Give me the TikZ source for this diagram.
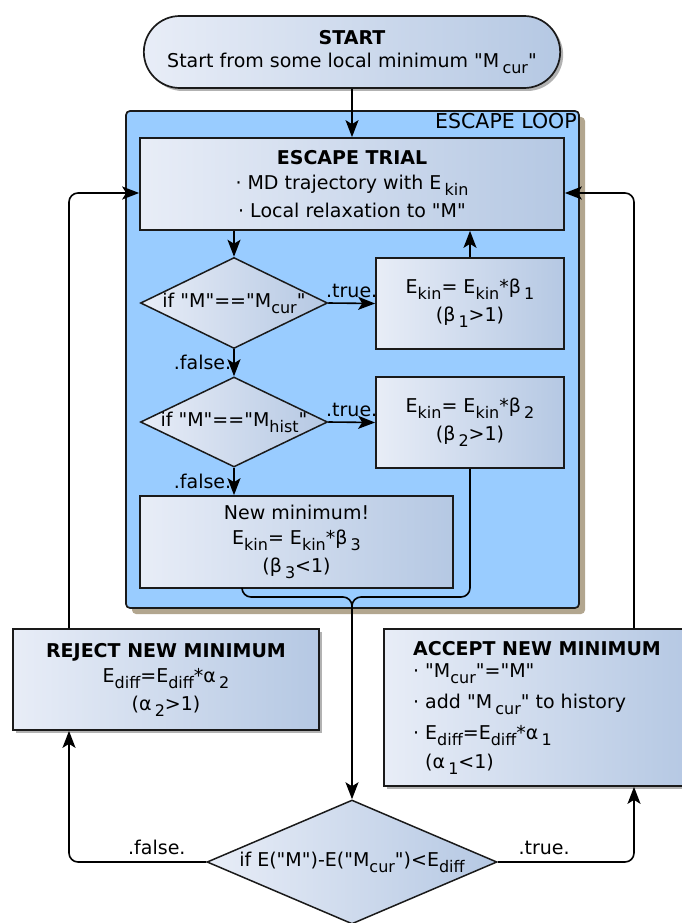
\documentclass[tikz,border=0pt]{standalone}
\usepackage{fontspec}
\setmainfont{DejaVu Sans}[Ligatures=TeXOff]
\usetikzlibrary{shapes.geometric, shapes.misc, arrows.meta, shadows, calc}
\definecolor{boxlight}{HTML}{E8EDF7}
\definecolor{boxdark}{HTML}{B5C8E3}
\definecolor{loopblue}{HTML}{99CCFF}
\definecolor{loopshade}{HTML}{B2A68F}
\definecolor{edgedark}{HTML}{1A1A1A}
\newcommand{\lowsub}[1]{\raisebox{-0.32em}{\fontsize{16}{16}\selectfont #1}}
\tikzset{
  arr/.style={-{Stealth[length=17pt, width=13pt, inset=4pt]}, line width=1.6pt, black},
  wire/.style={line width=1.6pt, black},
  procbox/.style={rectangle, draw=edgedark, line width=1.7pt, left color=boxlight, right color=boxdark, align=center, inner sep=2pt},
  decision/.style={diamond, draw=edgedark, line width=1.5pt, left color=boxlight, right color=boxdark, inner sep=0pt},
  shadowed/.style={drop shadow={shadow xshift=3pt, shadow yshift=-3pt, fill=black, opacity=0.3}},
}

\begin{document}
\begin{tikzpicture}[x=1pt, y=-1pt, font=\fontsize{19}{28}\selectfont,
    startbox/.style={rounded rectangle, draw=edgedark, line width=1.7pt, left color=boxlight, right color=boxdark, align=center, shadowed},
    loopbox/.style={rectangle, rounded corners=4pt, draw=edgedark, line width=1.7pt, fill=loopblue, drop shadow={shadow xshift=6pt, shadow yshift=-6pt, fill=loopshade, opacity=1}},
    lbl/.style={font=\fontsize{19}{20}\selectfont, inner sep=2pt}]
  \useasboundingbox (0,0) rectangle (682,923);

  % Start
  \node[startbox, minimum width=423pt, minimum height=72pt] (start) at (352,52) {{\bfseries START}\\[-5pt]Start from some local minimum "M\,\lowsub{cur}"};

  % Escape loop
  \node[loopbox, minimum width=453pt, minimum height=497pt] (loop) at (352.5,359.5) {};
  \node[anchor=north east, font=\fontsize{20.5}{22}\selectfont, inner sep=3pt] (looptitle) at (loop.north east) {ESCAPE LOOP};
  \node[procbox, minimum width=424pt, minimum height=92pt] (trial) at (352,184) {{\bfseries ESCAPE TRIAL}\\[-3pt]· MD trajectory with E\,\lowsub{kin}\\· Local relaxation to "M"};
  \node[decision, minimum width=187pt, minimum height=91pt] (d1) at (234,303) {\makebox[0pt]{if "M"=="M\lowsub{cur}"}};
  \node[procbox, minimum width=188pt, minimum height=91pt] (b1) at (470,303.5) {E\lowsub{kin}= E\lowsub{kin}*β\,\lowsub{1}\\(β\,\lowsub{1}>1)};
  \node[decision, minimum width=187pt, minimum height=90pt] (d2) at (234,422) {\makebox[0pt]{if "M"=="M\lowsub{hist}"}};
  \node[procbox, minimum width=188pt, minimum height=91pt] (b2) at (470,422.5) {E\lowsub{kin}= E\lowsub{kin}*β\,\lowsub{2}\\(β\,\lowsub{2}>1)};
  \node[procbox, minimum width=313pt, minimum height=92pt] (b3) at (296.5,542) {New minimum!\\[-3pt]E\lowsub{kin}= E\lowsub{kin}*β\,\lowsub{3}\\(β\,\lowsub{3}<1)};

  \draw[arr] (start) -- (trial);
  \draw[arr] (d1.north |- trial.south) -- (d1.north);
  \draw[arr] (d1.east) -- node[lbl, above=3pt] {.true.} (b1.west);
  \draw[arr] (b1.north) -- (b1.north |- trial.south);
  \draw[arr] (d1.south) -- node[lbl, left] {.false.} (d2.north);
  \draw[arr] (d2.east) -- node[lbl, above=3pt] {.true.} (b2.west);
  \draw[arr] (d2.south) -- node[lbl, left] {.false.} (d2.south |- b3.north);

  % Merge
  \coordinate (b3out) at ($(b3.south)+(-54.5,0)$);
  \coordinate (jn) at (352,597);
  \coordinate (jdown) at (352,614);
  \draw[wire, rounded corners=9pt] (b3out) |- (jn) -- (jdown);
  \draw[wire, rounded corners=9pt] (b2.south) |- (jn) -- (jdown);

  % Acceptance test
  \node[decision, minimum width=290pt, minimum height=124pt] (fin) at (352,862) {\makebox[0pt]{if E("M")-E("M\lowsub{cur}")<E\lowsub{diff}}};
  \node[procbox, shadowed, minimum width=306pt, minimum height=101pt] (rej) at (166,679.5) {{\bfseries REJECT NEW MINIMUM}\\[-3pt]E\lowsub{diff}=E\lowsub{diff}*α\,\lowsub{2}\\(α\,\lowsub{2}>1)};
  \node[procbox, shadowed, minimum width=306pt, minimum height=157pt, align=left] (acc) at (537,707.5) {{\bfseries ACCEPT NEW MINIMUM}\\[-6pt]· "M\lowsub{cur}"="M"\\[3pt]· add "M\,\lowsub{cur}" to history\\[3pt]· E\lowsub{diff}=E\lowsub{diff}*α\,\lowsub{1}\\[1pt]\hspace{12pt}(α\,\lowsub{1}<1)};

  \draw[arr] (jdown) -- (fin.north);
  \draw[arr, rounded corners=9pt] (fin.west) -| node[lbl, above=4pt, pos=0.18] {.false.} ([xshift=-97pt]rej.south);
  \draw[arr, rounded corners=9pt] (fin.east) -| node[lbl, above=4pt, pos=0.17] {.true.} ([xshift=97pt]acc.south);
  \draw[arr, rounded corners=9pt] ([xshift=-97pt]rej.north) |- ([yshift=-9pt]trial.west);
  \draw[arr, rounded corners=9pt] ([xshift=97pt]acc.north) |- ([yshift=-9pt]trial.east);
\end{tikzpicture}
\end{document}
